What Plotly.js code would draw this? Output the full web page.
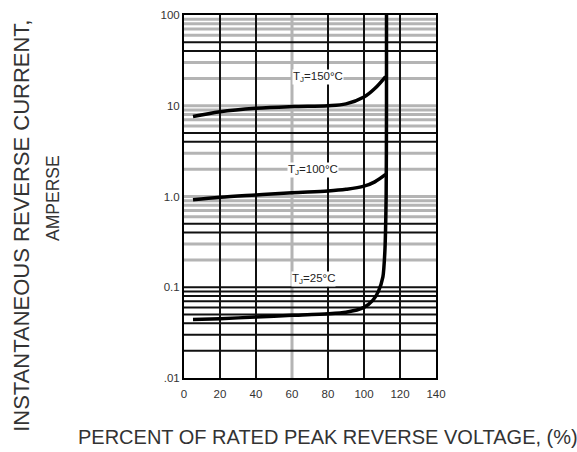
<!DOCTYPE html>
<html><head><meta charset="utf-8">
<script src="https://cdn.plot.ly/plotly-3.0.1.min.js"></script>
<style>body{margin:0;background:#fff}#c{width:577px;height:452px}</style>
</head><body><div id="c"></div>
<script>
const x150 = [5, 20, 40, 60, 80, 90, 100, 106, 112];
const y150 = [7.6, 8.6, 9.4, 9.8, 10.0, 10.5, 12.5, 15.5, 21];
const x100 = [5, 20, 40, 60, 80, 90, 100, 106, 112];
const y100 = [0.92, 0.98, 1.04, 1.1, 1.15, 1.2, 1.3, 1.45, 1.75];
const x25 = [5, 20, 40, 60, 80, 90, 100, 105, 108, 110.5, 111.6, 112.3, 112.5, 112.5];
const y25 = [0.044, 0.045, 0.047, 0.049, 0.051, 0.053, 0.06, 0.072, 0.09, 0.13, 0.25, 1, 10, 100];
const yTickVals = [100, 10, 1, 0.1, 0.01];
const yTickText = ["100", "10", "1.0", "0.1", ".01"];
const xTickVals = [0, 20, 40, 60, 80, 100, 120, 140];
// horizontal grid lines: dark and light (as printed)
const yGridDark = [50, 40, 5, 4, 0.5, 0.4, 0.1, 0.09, 0.08, 0.07, 0.06, 0.05, 0.04, 0.03, 0.02];
const yGridLight = [90, 80, 70, 60, 30, 20, 10, 9, 8, 7, 6, 3, 2, 1, 0.9, 0.8, 0.7, 0.6, 0.3, 0.2];
const xGridDark = [20, 40, 80, 100, 120];
const xGridLight = [60];
const labels = ["T<sub>J</sub>=150°C", "T<sub>J</sub>=100°C", "T<sub>J</sub>=25°C"];
const labelX = [74.5, 71.5, 72];
const labelY = [21, 1.95, 0.123];

const FONT = "Liberation Sans, Arial, sans-serif";
const line = {color: "#000", width: 3.5};
const traces = [
  {x: x150, y: y150, mode: "lines", line: {...line, shape: "spline"}},
  {x: x100, y: y100, mode: "lines", line: {...line, shape: "spline"}},
  {x: x25, y: y25, mode: "lines", line: {...line, shape: "spline", smoothing: 0.6}}
];

const shapes = [];
yGridLight.forEach(v => shapes.push({type: "line", layer: "below", xref: "paper", x0: 0, x1: 1, yref: "y",
  y0: v, y1: v, line: {color: "#b4b4b4", width: 3}}));
xGridLight.forEach(v => shapes.push({type: "line", layer: "below", yref: "paper", y0: 0, y1: 1, xref: "x",
  x0: v, x1: v, line: {color: "#b4b4b4", width: 3}}));
yGridDark.forEach(v => shapes.push({type: "line", layer: "below", xref: "paper", x0: 0, x1: 1, yref: "y",
  y0: v, y1: v, line: {color: "#111", width: 2}}));
xGridDark.forEach(v => shapes.push({type: "line", layer: "below", yref: "paper", y0: 0, y1: 1, xref: "x",
  x0: v, x1: v, line: {color: "#111", width: 2}}));

const ann = labels.map((t, i) => ({x: labelX[i], y: Math.log10(labelY[i]), text: t, showarrow: false,
  font: {family: FONT, size: 11.5, color: "#222"}, bgcolor: "#fff", xref: "x", yref: "y", borderpad: 0}));
ann.push({xref: "paper", yref: "paper", x: -0.643, y: 0.419, xanchor: "center", yanchor: "middle",
  text: "INSTANTANEOUS REVERSE CURRENT,", textangle: -90,
  showarrow: false, font: {family: FONT, size: 22, color: "#333"}});
ann.push({xref: "paper", yref: "paper", x: -0.52, y: 0.496, xanchor: "center", yanchor: "middle",
  text: "AMPERSE", textangle: -90,
  showarrow: false, font: {family: FONT, size: 17.5, color: "#333"}});
ann.push({xref: "paper", yref: "paper", x: 0.571, y: -0.1625, xanchor: "center", yanchor: "middle",
  text: "PERCENT OF RATED PEAK REVERSE VOLTAGE, (%)",
  showarrow: false, font: {family: FONT, size: 20, color: "#333"}});

const layout = {
  width: 577, height: 452,
  margin: {l: 184, r: 141, t: 15, b: 74},
  paper_bgcolor: "#fff", plot_bgcolor: "#fff",
  showlegend: false,
  xaxis: {range: [0, 140], tickvals: xTickVals, showgrid: false,
    zeroline: false, showline: true, linecolor: "#000", linewidth: 2, mirror: true, ticks: "",
    ticklabelstandoff: 4,
    tickfont: {family: FONT, size: 11.5, color: "#333"}},
  yaxis: {type: "log", range: [-2, 2], tickvals: yTickVals, ticktext: yTickText, showgrid: false,
    showline: true, linecolor: "#000", linewidth: 2, mirror: true, ticks: "",
    tickfont: {family: FONT, size: 11.5, color: "#333"}},
  shapes: shapes,
  annotations: ann
};
Plotly.newPlot("c", traces, layout, {staticPlot: true});
</script></body></html>
